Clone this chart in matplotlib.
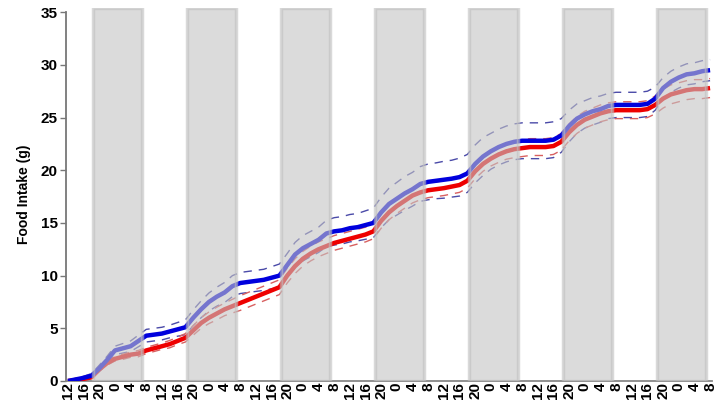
import matplotlib.pyplot as plt
import numpy as np

plt.rcParams['font.family'] = ['Liberation Sans', 'DejaVu Sans']

# hours since 12:00 on day 0, sampled every 2 h
hours = np.arange(0, 165, 2)

# cumulative food intake (g), group means
blue_mean = [0.0, 0.15, 0.3, 0.5,
             1.2, 2.0, 2.9, 3.1, 3.3, 3.8,
             4.3, 4.4, 4.5, 4.7, 4.9, 5.1,
             6.0, 6.8, 7.5, 8.0, 8.4, 9.0,
             9.3, 9.4, 9.5, 9.6, 9.8, 10.0,
             11.0, 12.0, 12.6, 13.0, 13.4, 14.0,
             14.2, 14.3, 14.5, 14.6, 14.8, 15.0,
             16.0, 16.8, 17.3, 17.8, 18.2, 18.7,
             18.9, 19.0, 19.1, 19.2, 19.35, 19.7,
             20.6, 21.3, 21.8, 22.2, 22.5, 22.7,
             22.8, 22.8, 22.8, 22.8, 22.9, 23.3,
             24.2, 24.9, 25.3, 25.6, 25.8, 26.1,
             26.2, 26.2, 26.2, 26.2, 26.3, 26.8,
             27.8, 28.4, 28.8, 29.1, 29.2, 29.4,
             29.5]
red_mean = [0.0, 0.1, 0.2, 0.35,
            1.1, 1.7, 2.1, 2.3, 2.5, 2.6,
            2.9, 3.1, 3.3, 3.5, 3.8, 4.1,
            4.8, 5.5, 6.0, 6.4, 6.8, 7.1,
            7.4, 7.7, 8.0, 8.3, 8.6, 8.9,
            10.0, 10.9, 11.6, 12.1, 12.5, 12.8,
            13.1, 13.3, 13.5, 13.7, 13.9, 14.2,
            15.2, 16.0, 16.6, 17.1, 17.6, 17.9,
            18.1, 18.2, 18.3, 18.45, 18.6, 19.0,
            19.9, 20.6, 21.1, 21.5, 21.8, 22.0,
            22.1, 22.2, 22.2, 22.2, 22.3, 22.7,
            23.6, 24.3, 24.8, 25.1, 25.4, 25.6,
            25.7, 25.7, 25.7, 25.7, 25.8, 26.2,
            26.8, 27.2, 27.4, 27.6, 27.7, 27.7,
            27.8]

# standard error of the mean
blue_sem = [0.05, 0.1, 0.15, 0.2,
            0.3, 0.35, 0.4, 0.45, 0.5, 0.55,
            0.6, 0.6, 0.6, 0.6, 0.65, 0.7,
            0.75, 0.8, 0.85, 0.9, 0.95, 1.0,
            1.0, 1.0, 1.0, 1.0, 1.05, 1.1,
            1.1, 1.15, 1.2, 1.2, 1.2, 1.25,
            1.3, 1.3, 1.3, 1.3, 1.35, 1.4,
            1.45, 1.5, 1.55, 1.6, 1.6, 1.65,
            1.7, 1.7, 1.75, 1.75, 1.8, 1.8,
            1.8, 1.8, 1.7, 1.7, 1.7, 1.7,
            1.7, 1.7, 1.7, 1.7, 1.7, 1.6,
            1.5, 1.4, 1.3, 1.3, 1.25, 1.2,
            1.2, 1.2, 1.2, 1.2, 1.2, 1.1,
            1.0, 1.0, 1.0, 1.0, 1.0, 1.0,
            1.0]
red_sem = [0.05, 0.05, 0.1, 0.1,
           0.15, 0.2, 0.2, 0.25, 0.25, 0.3,
           0.3, 0.3, 0.3, 0.35, 0.35, 0.4,
           0.45, 0.5, 0.55, 0.6, 0.6, 0.65,
           0.7, 0.7, 0.7, 0.7, 0.7, 0.7,
           0.7, 0.7, 0.7, 0.7, 0.7, 0.7,
           0.7, 0.7, 0.7, 0.7, 0.7, 0.7,
           0.7, 0.7, 0.7, 0.7, 0.7, 0.7,
           0.7, 0.7, 0.7, 0.7, 0.7, 0.7,
           0.7, 0.7, 0.7, 0.75, 0.75, 0.8,
           0.8, 0.8, 0.8, 0.8, 0.8, 0.8,
           0.8, 0.8, 0.8, 0.8, 0.8, 0.8,
           0.8, 0.8, 0.8, 0.8, 0.8, 0.85,
           0.9, 0.9, 0.9, 0.9, 0.9, 0.9,
           0.9]

tick_labels = ['12', '16', '20', '0', '4', '8'] * 7
n_nights = 7
lights_off = 6.4   # 18:24, hours after 12:00
lights_on = 19.0   # 07:00 next morning

blue_mean = np.array(blue_mean)
red_mean = np.array(red_mean)
blue_sem = np.array(blue_sem)
red_sem = np.array(red_sem)

fig = plt.figure(figsize=(7.22, 4.03), dpi=100)
ax = fig.add_axes([0.0914, 0.0546, 0.8948, 0.9256])

# SEM bands as dashed lines
for m, s, c in [(blue_mean, blue_sem, '#4a4aa8'), (red_mean, red_sem, '#d86060')]:
    ax.plot(hours, m + s, color=c, lw=1.0, ls=(0, (6, 5)), zorder=2)
    ax.plot(hours, m - s, color=c, lw=1.0, ls=(0, (6, 5)), zorder=2)

ax.plot(hours, red_mean, color='#ee0000', lw=3.2, solid_capstyle='butt', zorder=3)
ax.plot(hours, blue_mean, color='#0000dd', lw=3.2, solid_capstyle='butt', zorder=3)

# dark phases, drawn over the curves
for k in range(n_nights):
    ax.axvspan(lights_off + 24 * k, lights_on + 24 * k, ymin=0, ymax=1,
               facecolor='#c4c4c4', edgecolor='#c0c0c0', lw=2.5,
               alpha=0.6, zorder=4)

ax.set_xlim(-0.5, 164.5)
ax.set_ylim(0, 35.4)
ax.set_xticks(np.arange(0, 165, 4))
ax.set_xticklabels(tick_labels, rotation=90, fontsize=11, fontweight='bold')
ax.set_yticks(np.arange(0, 36, 5))
ax.set_yticklabels([str(v) for v in range(0, 36, 5)], fontsize=11, fontweight='bold')
ax.tick_params(axis='x', length=0, pad=1)
ax.tick_params(axis='y', length=4, width=1, color='#777777', pad=2)
ax.set_ylabel('Food Intake (g)', fontsize=10, fontweight='bold', labelpad=7)

for side in ['top', 'right']:
    ax.spines[side].set_visible(False)
ax.spines['left'].set_bounds(0, 35)
ax.spines['left'].set_color('#777777')
ax.spines['bottom'].set_color('#888888')
ax.spines['left'].set_linewidth(1.3)
ax.spines['bottom'].set_linewidth(1.3)

fig.savefig('out.png', dpi=100)
